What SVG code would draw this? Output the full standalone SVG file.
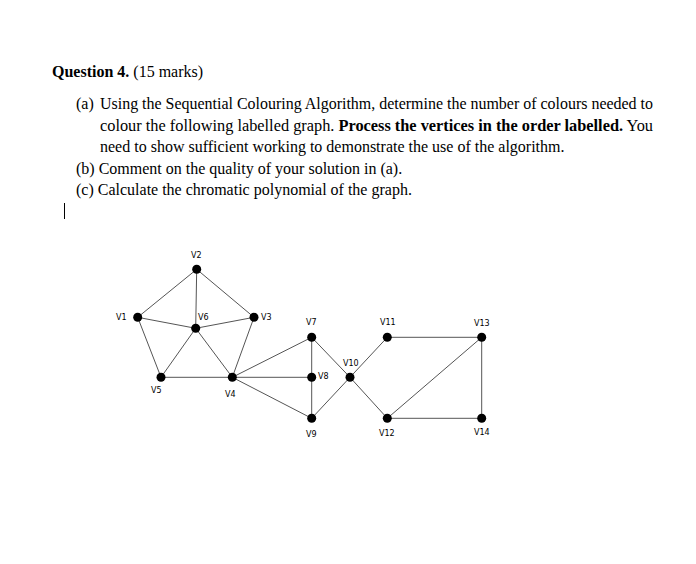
<svg xmlns="http://www.w3.org/2000/svg" width="696" height="564" viewBox="0 0 696 564">
<style>
.t{font-family:"Liberation Serif",serif;font-size:16px;fill:#000}
.b{font-weight:bold}
.l{font-family:"DejaVu Sans","Liberation Sans",sans-serif;font-size:8px;fill:#000}
.e{stroke:#555;stroke-width:1;fill:none}
.n{fill:#000}
</style>
<rect width="696" height="564" fill="#fff"/>
<text class="t" x="52" y="77"><tspan class="b">Question 4.</tspan> (15 marks)</text>
<text class="t" x="76" y="109">(a)</text>
<text class="t" x="100" y="109" textLength="553" lengthAdjust="spacingAndGlyphs">Using the Sequential Colouring Algorithm, determine the number of colours needed to</text>
<text class="t" x="100" y="131" textLength="553" lengthAdjust="spacingAndGlyphs">colour the following labelled graph. <tspan class="b">Process the vertices in the order labelled.</tspan> You</text>
<text class="t" x="100" y="152">need to show sufficient working to demonstrate the use of the algorithm.</text>
<text class="t" x="76" y="174">(b) Comment on the quality of your solution in (a).</text>
<text class="t" x="76" y="195">(c) Calculate the chromatic polynomial of the graph.</text>
<line x1="64.5" y1="203" x2="64.5" y2="219" stroke="#000" stroke-width="1"/>
<g id="connectors" class="e">
<line x1="137.7" y1="317.3" x2="196.7" y2="269.3"/>
<line x1="196.7" y1="269.3" x2="254" y2="317.3"/>
<line x1="196.7" y1="269.3" x2="195.7" y2="328.3"/>
<line x1="137.7" y1="317.3" x2="195.7" y2="328.3"/>
<line x1="195.7" y1="328.3" x2="254" y2="317.3"/>
<line x1="137.7" y1="317.3" x2="161" y2="377.3"/>
<line x1="195.7" y1="328.3" x2="161" y2="377.3"/>
<line x1="195.7" y1="328.3" x2="232.3" y2="377.3"/>
<line x1="254" y1="317.3" x2="232.3" y2="377.3"/>
<line x1="161" y1="377.3" x2="232.3" y2="377.3"/>
<line x1="232.3" y1="377.3" x2="311.7" y2="337.3"/>
<line x1="232.3" y1="377.3" x2="311.7" y2="377.3"/>
<line x1="232.3" y1="377.3" x2="311.7" y2="418.3"/>
<line x1="311.7" y1="337.3" x2="311.7" y2="418.3"/>
<line x1="311.7" y1="337.3" x2="350" y2="377.3"/>
<line x1="311.7" y1="418.3" x2="350" y2="377.3"/>
<line x1="350" y1="377.3" x2="387.3" y2="337.3"/>
<line x1="350" y1="377.3" x2="387.3" y2="418.3"/>
<line x1="387.3" y1="337.3" x2="481.7" y2="337.3"/>
<line x1="481.7" y1="337.3" x2="387.3" y2="418.3"/>
<line x1="481.7" y1="337.3" x2="481.7" y2="418.3"/>
<line x1="387.3" y1="418.3" x2="481.7" y2="418.3"/>
</g>
<g id="V1"><circle class="n" cx="137.7" cy="317.3" r="4.5"/><text class="l" x="116" y="320">V1</text></g>
<g id="V2"><circle class="n" cx="196.7" cy="269.3" r="4.5"/><text class="l" x="191" y="258">V2</text></g>
<g id="V3"><circle class="n" cx="254" cy="317.3" r="4.5"/><text class="l" x="261" y="320">V3</text></g>
<g id="V4"><circle class="n" cx="232.3" cy="377.3" r="4.5"/><text class="l" x="225" y="397">V4</text></g>
<g id="V5"><circle class="n" cx="161" cy="377.3" r="4.5"/><text class="l" x="151" y="393">V5</text></g>
<g id="V6"><circle class="n" cx="195.7" cy="328.3" r="4.5"/><text class="l" x="198" y="320">V6</text></g>
<g id="V7"><circle class="n" cx="311.7" cy="337.3" r="4.5"/><text class="l" x="306" y="325">V7</text></g>
<g id="V8"><circle class="n" cx="311.7" cy="377.3" r="4.5"/><text class="l" x="318" y="379">V8</text></g>
<g id="V9"><circle class="n" cx="311.7" cy="418.3" r="4.5"/><text class="l" x="306" y="437">V9</text></g>
<g id="V10"><circle class="n" cx="350" cy="377.3" r="4.5"/><text class="l" x="343" y="366">V10</text></g>
<g id="V11"><circle class="n" cx="387.3" cy="337.3" r="4.5"/><text class="l" x="380" y="325">V11</text></g>
<g id="V12"><circle class="n" cx="387.3" cy="418.3" r="4.5"/><text class="l" x="379" y="436">V12</text></g>
<g id="V13"><circle class="n" cx="481.7" cy="337.3" r="4.5"/><text class="l" x="474" y="326">V13</text></g>
<g id="V14"><circle class="n" cx="481.7" cy="418.3" r="4.5"/><text class="l" x="474" y="435">V14</text></g>
</svg>
